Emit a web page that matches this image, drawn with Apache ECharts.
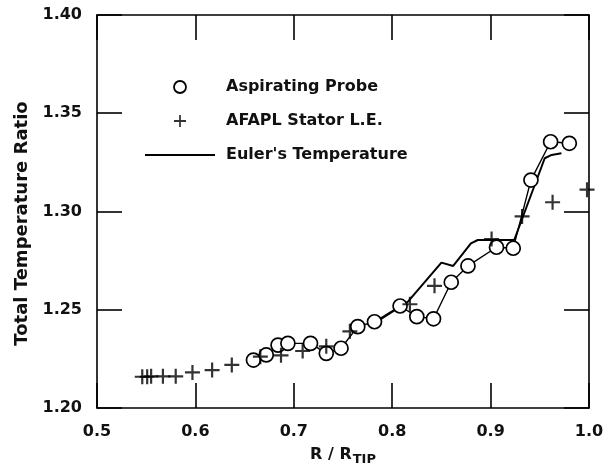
<!DOCTYPE html>
<html>
<head>
<meta charset="utf-8">
<script src="https://cdn.jsdelivr.net/npm/echarts@6/dist/echarts.min.js"></script>
<style>
html,body{margin:0;padding:0;background:#fff;}
#chart{width:612px;height:471px;}
</style>
</head>
<body>
<div id="chart"></div>
<script>
// Data
const seriesNames = ['Aspirating Probe', 'AFAPL Stator L.E.', "Euler's Temperature"];
const xTicks = [0.5, 0.6, 0.7, 0.8, 0.9, 1.0];
const yTicks = [1.20, 1.25, 1.30, 1.35, 1.40];

const probeR = [0.659, 0.672, 0.684, 0.694, 0.717, 0.733, 0.748, 0.765, 0.782, 0.808, 0.825, 0.842, 0.860, 0.877, 0.906, 0.923, 0.941, 0.961, 0.980];
const probeT = [1.2244, 1.2270, 1.2320, 1.2329, 1.2329, 1.2278, 1.2304, 1.2414, 1.2439, 1.2519, 1.2465, 1.2454, 1.2640, 1.2723, 1.2818, 1.2813, 1.3160, 1.3355, 1.3347];

const afaplR = [0.546, 0.551, 0.555, 0.567, 0.580, 0.597, 0.617, 0.637, 0.666, 0.687, 0.709, 0.733, 0.757, 0.818, 0.843, 0.901, 0.932, 0.963, 0.998];
const afaplT = [1.2159, 1.2159, 1.2161, 1.2161, 1.2161, 1.2181, 1.2193, 1.2219, 1.2261, 1.2268, 1.2290, 1.2314, 1.2390, 1.2528, 1.2622, 1.2860, 1.2975, 1.3047, 1.3111];

const eulerR = [0.786, 0.816, 0.850, 0.862, 0.880, 0.887, 0.924, 0.955, 0.962, 0.972];
const eulerT = [1.2445, 1.2541, 1.2740, 1.2723, 1.2838, 1.2855, 1.2855, 1.3271, 1.3288, 1.3296];

const pair = (xs, ys) => xs.map((x, i) => [x, ys[i]]);
const PLUS = 'path://M6.4,0H8.6V6.4H15V8.6H8.6V15H6.4V8.6H0V6.4H6.4Z';
const FONT = 'DejaVu Sans';

const chart = echarts.init(document.getElementById('chart'), null, {renderer: 'canvas'});
const axisLine = {show: true, lineStyle: {color: '#000', width: 1.6}};
const tickStyle = {color: '#000', width: 1.6};
const txt = {fontFamily: FONT, fontSize: 16, fontWeight: 'bold', color: '#111'};

chart.setOption({
  animation: false,
  backgroundColor: '#fff',
  grid: {left: 97, right: 23, top: 15, bottom: 63, containLabel: false},
  legend: {
    orient: 'vertical',
    left: 140,
    top: 73,
    itemWidth: 70,
    itemHeight: 12,
    itemGap: 16,
    selectedMode: false,
    textStyle: Object.assign({}, txt, {lineHeight: 18, padding: [0, 0, 0, 6]}),
    data: [
      {name: seriesNames[0], icon: 'circle', itemStyle: {color: '#fff', borderColor: '#000', borderWidth: 1.8}},
      {name: seriesNames[1], icon: PLUS, itemStyle: {color: '#000', borderWidth: 0}},
      {name: seriesNames[2], icon: 'path://M0,0H70V2.2H0Z', itemStyle: {color: '#000', borderWidth: 0}}
    ]
  },
  xAxis: [
    {
      type: 'value', min: 0.5, max: 1.0, interval: 0.1, position: 'bottom',
      name: 'R / R{s|TIP}', nameLocation: 'middle', nameGap: 35,
      nameTextStyle: Object.assign({}, txt, {
        rich: {s: {fontFamily: FONT, fontSize: 13, fontWeight: 'bold', color: '#111', padding: [10, 0, 0, 1]}}}),
      axisLine: axisLine,
      axisTick: {show: true, inside: true, length: 25, lineStyle: tickStyle},
      axisLabel: Object.assign({}, txt, {margin: 16,
        formatter: v => xTicks.find(t => Math.abs(t - v) < 1e-6).toFixed(1)}),
      splitLine: {show: false}
    },
    {
      type: 'value', min: 0.5, max: 1.0, interval: 0.1, position: 'top',
      axisLine: axisLine,
      axisTick: {show: true, inside: true, length: 25, lineStyle: tickStyle},
      axisLabel: {show: false}, splitLine: {show: false}
    }
  ],
  yAxis: [
    {
      type: 'value', min: 1.20, max: 1.40, interval: 0.05, position: 'left',
      name: 'Total Temperature Ratio', nameLocation: 'middle', nameGap: 66, nameRotate: 90,
      nameTextStyle: Object.assign({}, txt, {fontSize: 18, padding: [0, 24, 0, 0]}),
      axisLine: axisLine,
      axisTick: {show: true, inside: true, length: 25, lineStyle: tickStyle},
      axisLabel: Object.assign({}, txt, {margin: 15,
        formatter: v => yTicks.find(t => Math.abs(t - v) < 1e-6).toFixed(2)}),
      splitLine: {show: false}
    },
    {
      type: 'value', min: 1.20, max: 1.40, interval: 0.05, position: 'right',
      axisLine: axisLine,
      axisTick: {show: true, inside: true, length: 25, lineStyle: tickStyle},
      axisLabel: {show: false}, splitLine: {show: false}
    }
  ],
  series: [
    {
      name: seriesNames[2], type: 'line', xAxisIndex: 0, yAxisIndex: 0,
      data: pair(eulerR, eulerT), symbol: 'none', z: 2,
      lineStyle: {color: '#000', width: 2}, itemStyle: {color: '#000'}
    },
    {
      name: seriesNames[0], type: 'line', xAxisIndex: 0, yAxisIndex: 0,
      data: pair(probeR, probeT), symbol: 'circle', symbolSize: 14, showAllSymbol: true, z: 3,
      lineStyle: {color: '#000', width: 1.4},
      itemStyle: {color: '#fff', borderColor: '#000', borderWidth: 1.7}
    },
    {
      name: seriesNames[1], type: 'scatter', xAxisIndex: 0, yAxisIndex: 0,
      data: pair(afaplR, afaplT), symbol: PLUS, symbolSize: 15, z: 4,
      itemStyle: {color: '#000'}
    }
  ]
});
</script>
</body>
</html>
